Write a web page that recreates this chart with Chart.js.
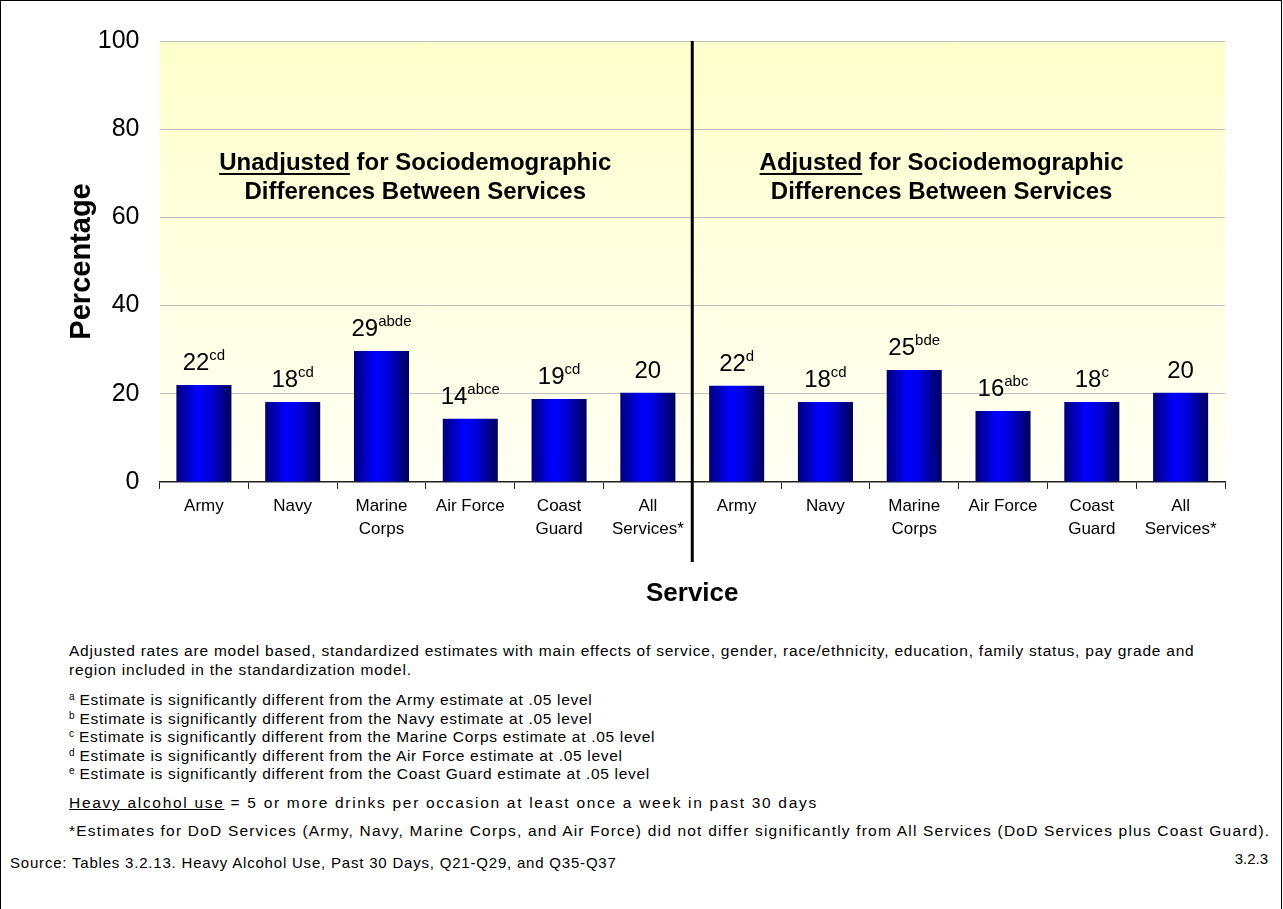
<!DOCTYPE html>
<html lang="en">
<head>
    <meta charset="UTF-8">
    <title>Heavy Alcohol Use, Past 30 Days</title>
    <script src="https://cdn.jsdelivr.net/npm/chart.js"></script>
    <style>
        body {
            margin: 0;
            padding: 0;
            background: white;
            font-family: Arial, "Liberation Sans", sans-serif;
        }
        .page {
            position: relative;
            width: 1282px;
            height: 909px;
            border-left: 1px solid #000;
            border-top: 1px solid #000;
            border-right: 1px solid #000;
            box-sizing: border-box;
            overflow: hidden;
        }
        #chart {
            position: absolute;
            left: -1px;
            top: -1px;
        }
        .note {
            position: absolute;
            left: 68px;
            font-size: 15.5px;
            letter-spacing: 0.78px;
            color: #000;
            white-space: nowrap;
            line-height: 19px;
        }
        .note sup {
            font-size: 10px;
            letter-spacing: 0;
            vertical-align: 5px;
            line-height: 0;
        }
        .source {
            position: absolute;
            left: 9px;
            top: 853px;
            font-size: 15px;
            letter-spacing: 0.8px;
        }
        .pagenum {
            position: absolute;
            right: 13px;
            top: 849px;
            font-size: 15px;
        }
    </style>
</head>
<body>
<div class="page">
    <canvas id="chart" width="1283" height="609"></canvas>

    <div class="note" style="top:640px;">Adjusted rates are model based, standardized estimates with main effects of service, gender, race/ethnicity, education, family status, pay grade and<br>region included in the standardization model.</div>
    <div class="note" style="top:690px; line-height:18.5px; letter-spacing:0.7px;">
        <sup>a</sup> Estimate is significantly different from the Army estimate at .05 level<br>
        <sup>b</sup> Estimate is significantly different from the Navy estimate at .05 level<br>
        <sup>c</sup> Estimate is significantly different from the Marine Corps estimate at .05 level<br>
        <sup>d</sup> Estimate is significantly different from the Air Force estimate at .05 level<br>
        <sup>e</sup> Estimate is significantly different from the Coast Guard estimate at .05 level
    </div>
    <div class="note" style="top:792px; letter-spacing:1.7px;"><u>Heavy alcohol use</u> = 5 or more drinks per occasion at least once a week in past 30 days</div>
    <div class="note" style="top:820px; letter-spacing:1.2px;">*Estimates for DoD Services (Army, Navy, Marine Corps, and Air Force) did not differ significantly from All Services (DoD Services plus Coast Guard).</div>

    <div class="source">Source: Tables 3.2.13. Heavy Alcohol Use, Past 30 Days, Q21-Q29, and Q35-Q37</div>
    <div class="pagenum">3.2.3</div>
</div>

<script>
    // services shown in each panel
    const services = ["Army", "Navy", ["Marine", "Corps"], "Air Force", ["Coast", "Guard"], ["All", "Services*"]];

    // percentages
    const unadjusted = [22.0, 18.1, 29.7, 14.3, 18.8, 20.2];
    const adjusted = [21.8, 18.1, 25.4, 16.1, 18.1, 20.2];

    // printed labels and significance letters
    const unadjustedLabels = ["22", "18", "29", "14", "19", "20"];
    const unadjustedSig = ["cd", "cd", "abde", "abce", "cd", ""];
    const adjustedLabels = ["22", "18", "25", "16", "18", "20"];
    const adjustedSig = ["d", "cd", "bde", "abc", "c", ""];

    const yTicks = [0, 20, 40, 60, 80, 100];

    const FONT = "Arial, 'Liberation Sans', sans-serif";

    const allLabels = services.concat(services);
    const allValues = unadjusted.concat(adjusted);
    const allText = unadjustedLabels.concat(adjustedLabels);
    const allSig = unadjustedSig.concat(adjustedSig);

    function barGradient(context) {
        const chart = context.chart;
        const x = chart.scales && chart.scales.x;
        if (!chart.chartArea || !x || context.dataIndex === undefined) return "#0000cc";
        const center = x.getPixelForValue(context.dataIndex);
        const half = (x.width / allLabels.length) * 0.62 / 2;
        const g = chart.ctx.createLinearGradient(center - half, 0, center + half, 0);
        g.addColorStop(0, "#000078");
        g.addColorStop(0.38, "#0000ff");
        g.addColorStop(0.6, "#0000e0");
        g.addColorStop(1, "#00005a");
        return g;
    }

    const backdrop = {
        id: "backdrop",
        beforeDraw(chart) {
            const { ctx, chartArea: a } = chart;
            const g = ctx.createLinearGradient(0, a.top, 0, a.bottom);
            g.addColorStop(0, "#ffffcc");
            g.addColorStop(1, "#fffff4");
            ctx.save();
            ctx.fillStyle = g;
            ctx.fillRect(a.left, a.top, a.right - a.left, a.bottom - a.top);
            ctx.restore();
        }
    };

    const decorations = {
        id: "decorations",
        afterDraw(chart) {
            const { ctx, chartArea: a } = chart;
            const x = chart.scales.x;
            const meta = chart.getDatasetMeta(0);

            // value labels with superscripts
            ctx.save();
            ctx.fillStyle = "#000";
            ctx.textBaseline = "alphabetic";
            ctx.textAlign = "left";
            meta.data.forEach((bar, i) => {
                ctx.font = "24px " + FONT;
                const w1 = ctx.measureText(allText[i]).width;
                ctx.font = "15px " + FONT;
                const w2 = allSig[i] ? ctx.measureText(allSig[i]).width : 0;
                const left = bar.x - (w1 + w2) / 2;
                const base = bar.y - 15;
                ctx.font = "24px " + FONT;
                ctx.fillText(allText[i], left, base);
                if (allSig[i]) {
                    ctx.font = "15px " + FONT;
                    ctx.fillText(allSig[i], left + w1, base - 10);
                }
            });

            // divider between panels
            const mid = (x.getPixelForValue(5) + x.getPixelForValue(6)) / 2;
            ctx.strokeStyle = "#000";
            ctx.lineWidth = 3;
            ctx.beginPath();
            ctx.moveTo(mid, a.top);
            ctx.lineTo(mid, 562);
            ctx.stroke();

            // panel headings
            const w = a.right - a.left;
            drawHeading(ctx, a.left + 0.24 * w, "Unadjusted");
            drawHeading(ctx, a.left + 0.734 * w, "Adjusted");
            ctx.restore();
        }
    };

    function drawHeading(ctx, cx, word) {
        ctx.font = "bold 24px " + FONT;
        ctx.textAlign = "left";
        const rest = " for Sociodemographic";
        const wWord = ctx.measureText(word).width;
        const wAll = ctx.measureText(word + rest).width;
        const left = cx - wAll / 2;
        ctx.fillText(word, left, 170);
        ctx.fillText(rest, left + wWord, 170);
        ctx.fillRect(left, 173, wWord, 2);
        ctx.textAlign = "center";
        ctx.fillText("Differences Between Services", cx, 199);
    }

    new Chart(document.getElementById("chart"), {
        type: "bar",
        data: {
            labels: allLabels,
            datasets: [{
                data: allValues,
                backgroundColor: barGradient,
                borderWidth: 0,
                barPercentage: 0.62,
                categoryPercentage: 1.0
            }]
        },
        options: {
            responsive: false,
            animation: false,
            layout: { padding: { left: 65, right: 58, top: 41, bottom: 0 } },
            plugins: {
                legend: { display: false },
                tooltip: { enabled: false }
            },
            scales: {
                x: {
                    grid: {
                        display: true,
                        drawOnChartArea: false,
                        drawTicks: true,
                        tickLength: 7,
                        color: "#222"
                    },
                    border: { display: true, color: "#222", width: 1.5 },
                    ticks: {
                        color: "#000",
                        font: { family: FONT, size: 17, lineHeight: 1.35 },
                        padding: 6,
                        maxRotation: 0,
                        autoSkip: false
                    },
                    title: {
                        display: true,
                        text: "Service",
                        color: "#000",
                        font: { family: FONT, size: 26, weight: "bold" },
                        padding: { top: 31, bottom: 0 }
                    }
                },
                y: {
                    min: 0,
                    max: 100,
                    afterBuildTicks(axis) {
                        axis.ticks = yTicks.map(v => ({ value: v }));
                    },
                    grid: {
                        color: "#c0c0c0",
                        lineWidth: 1,
                        drawTicks: false
                    },
                    border: { display: false },
                    ticks: {
                        color: "#000",
                        font: { family: FONT, size: 25 },
                        padding: 20
                    },
                    title: {
                        display: true,
                        text: "Percentage",
                        color: "#000",
                        font: { family: FONT, size: 29, weight: "bold" },
                        padding: { top: 0, bottom: -22 }
                    }
                }
            }
        },
        plugins: [backdrop, decorations]
    });
</script>
</body>
</html>
